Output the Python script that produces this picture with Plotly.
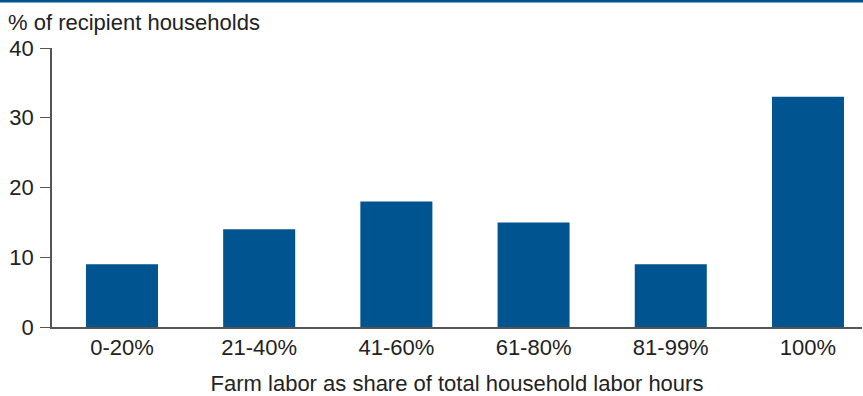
import plotly.graph_objects as go

categories = ["0-20%", "21-40%", "41-60%", "61-80%", "81-99%", "100%"]
shares = [9, 14, 18, 15, 9, 33]
y_ticks = [0, 10, 20, 30, 40]

W, H = 863, 396
ML, MR, MT, MB = 52, 1, 48, 69
pw = W - ML - MR
ph = H - MT - MB

bar_color = "#00548f"
text_color = "#222222"
axis_color = "#555555"
font = "Liberation Sans, Arial, sans-serif"
FS = 22

fig = go.Figure()
fig.add_trace(go.Bar(
    x=list(range(len(categories))),
    y=shares,
    marker=dict(color=bar_color, line=dict(width=0)),
    width=0.525,
    hoverinfo="skip",
))

fig.update_layout(
    width=W, height=H,
    margin=dict(l=ML, r=MR, t=MT, b=MB),
    paper_bgcolor="white", plot_bgcolor="white",
    showlegend=False,
    font=dict(family=font, size=FS, color=text_color),
    xaxis=dict(
        range=[-0.51, -0.51 + pw / 137.2],
        tickmode="array",
        tickvals=list(range(len(categories))),
        ticktext=categories,
        ticks="",
        showline=True, linecolor=axis_color, linewidth=1.5,
        showgrid=False, zeroline=False,
        tickfont=dict(size=FS, color=text_color),
        ticklabelstandoff=0,
        title=dict(text="Farm labor as share of total household labor hours",
                   font=dict(size=FS, color=text_color), standoff=18),
    ),
    yaxis=dict(
        range=[0, 40],
        tickmode="array", tickvals=y_ticks,
        ticks="outside", ticklen=10, tickcolor=axis_color, tickwidth=1.2,
        showline=True, linecolor=axis_color, linewidth=1.5,
        showgrid=False, zeroline=False,
        tickfont=dict(size=FS, color=text_color),
        ticklabelstandoff=2,
    ),
    annotations=[dict(
        text="% of recipient households",
        xref="paper", yref="paper",
        x=-(ML - 6) / pw, y=1 + (MT - 8) / ph,
        xanchor="left", yanchor="top", showarrow=False,
        font=dict(size=FS, color=text_color),
    )],
    shapes=[dict(
        type="rect", xref="paper", yref="paper",
        x0=-ML / pw, x1=1 + MR / pw,
        y0=1 + (MT - 2.5) / ph, y1=1 + MT / ph,
        fillcolor=bar_color, line=dict(width=0), layer="above",
    )],
)

fig.write_html("out.html")
